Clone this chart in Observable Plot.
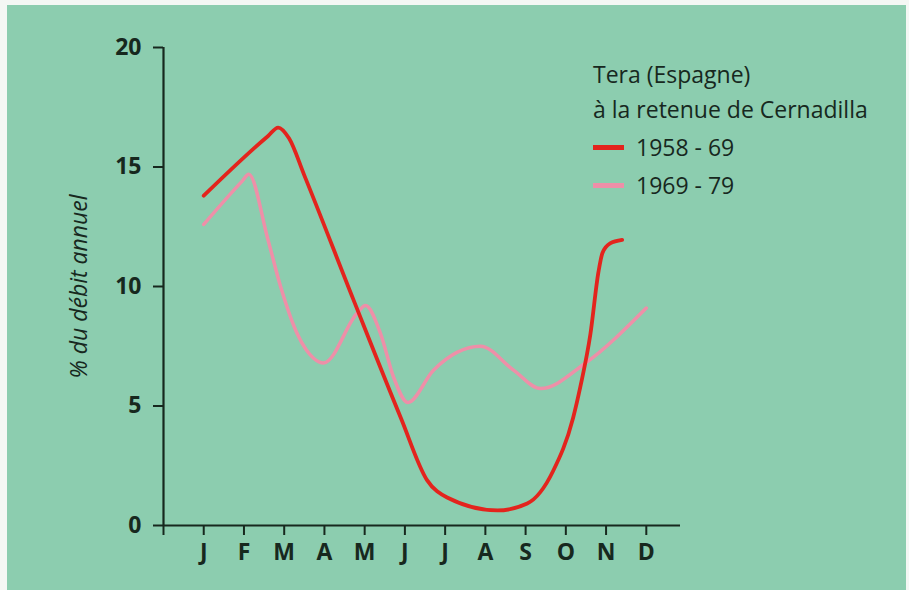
<!DOCTYPE html>
<html><head><meta charset="utf-8">
<script src="https://cdn.jsdelivr.net/npm/d3@7"></script>
<script src="https://cdn.jsdelivr.net/npm/@observablehq/plot@0.6"></script>
<style>
html,body{margin:0;padding:0;background:#f4f7f4;}
#wrap{position:relative;width:909px;height:590px;overflow:hidden;}
#bg{position:absolute;left:7px;top:5px;right:3px;bottom:0;background:#8ccdaf;}
#chart{position:absolute;left:0;top:0;}
#legend{position:absolute;left:593px;top:57px;font-family:"Open Sans",sans-serif;font-size:23px;font-weight:500;color:#17281e;line-height:35px;}
#legend .row{margin-top:3px;}
#legend .sw{display:inline-block;width:31px;height:5px;vertical-align:middle;margin-right:12px;position:relative;top:-2px;}
</style></head>
<body>
<div id="wrap"><div id="bg"></div><div id="chart"></div>
<div id="legend"></div></div>
<script>
const months = ["J","F","M","A","M","J","J","A","S","O","N","D"];
const yTicks = [0, 5, 10, 15, 20];
const yLabel = "% du débit annuel";
const title1 = "Tera (Espagne)";
const title2 = "à la retenue de Cernadilla";
const seriesNames = ["1958 - 69", "1969 - 79"];
const seriesColors = ["#e3241d", "#ee8fa8"];
// positions in months (0 = J ... 11 = D), values in %
const redPos = [0, 1.6, 1.85, 2.12, 2.5, 3.72, 4.9, 5.55, 6.05, 7.3, 8.04, 8.69, 9.18, 9.36, 9.61, 9.81, 9.91, 10.1, 10.4];
const redVal = [13.8, 16.3, 16.65, 16.2, 14.65, 9.45, 4.5, 1.9, 1.17, 0.63, 0.92, 2.3, 4.5, 5.8, 8.0, 10.6, 11.4, 11.8, 11.95];
const pinkPos = [0, 0.95, 1.12, 1.59, 1.91, 2.33, 2.73, 2.98, 3.82, 4.02, 4.40, 4.72, 5.07, 5.71, 6.88, 7.7, 8.37, 9.49, 11];
const pinkVal = [12.6, 14.4, 14.7, 12.0, 10.0, 8.0, 7.0, 6.8, 8.9, 9.2, 8.0, 6.2, 5.15, 6.5, 7.5, 6.5, 5.73, 6.8, 9.1];

const red = redPos.map((m, i) => ({m, v: redVal[i]}));
const pink = pinkPos.map((m, i) => ({m, v: pinkVal[i]}));
const ink = "#17281e";

const chart = Plot.plot({
  width: 909, height: 590,
  marginLeft: 163, marginRight: 229, marginTop: 47, marginBottom: 65,
  style: {background: "transparent", fontFamily: "'Open Sans', sans-serif", color: ink, overflow: "visible"},
  x: {domain: [-1, 11.85]},
  y: {domain: [0, 20]},
  marks: [
    Plot.axisY({ticks: yTicks, tickSize: 10, tickPadding: 12, strokeWidth: 2, fontSize: 23, fontWeight: "bold", label: null, tickFormat: d => d}),
    Plot.axisX({ticks: d3.range(-1, 12), tickSize: 10, tickPadding: 8, strokeWidth: 2, fontSize: 23, fontWeight: "bold", label: null, tickFormat: i => months[i] ?? ""}),
    Plot.ruleY([0], {stroke: ink, strokeWidth: 2.2}),
    Plot.ruleX([-1], {stroke: ink, strokeWidth: 2.2}),
    Plot.text([yLabel], {frameAnchor: "left", textAnchor: "middle", rotate: -90, dx: -84, fontSize: 23, fontWeight: 500, fontStyle: "italic", fill: ink}),
    Plot.line(pink, {x: "m", y: "v", stroke: seriesColors[1], strokeWidth: 3.5, curve: "monotone-x"}),
    Plot.line(red, {x: "m", y: "v", stroke: seriesColors[0], strokeWidth: 3.8, curve: "monotone-x"})
  ]
});
document.getElementById("chart").appendChild(chart);

const lg = document.getElementById("legend");
lg.innerHTML = `<div>${title1}</div><div>${title2}</div>` +
  seriesNames.map((n, i) => `<div class="row"><span class="sw" style="background:${seriesColors[i]}"></span>${n}</div>`).join("");
</script>
</body></html>
